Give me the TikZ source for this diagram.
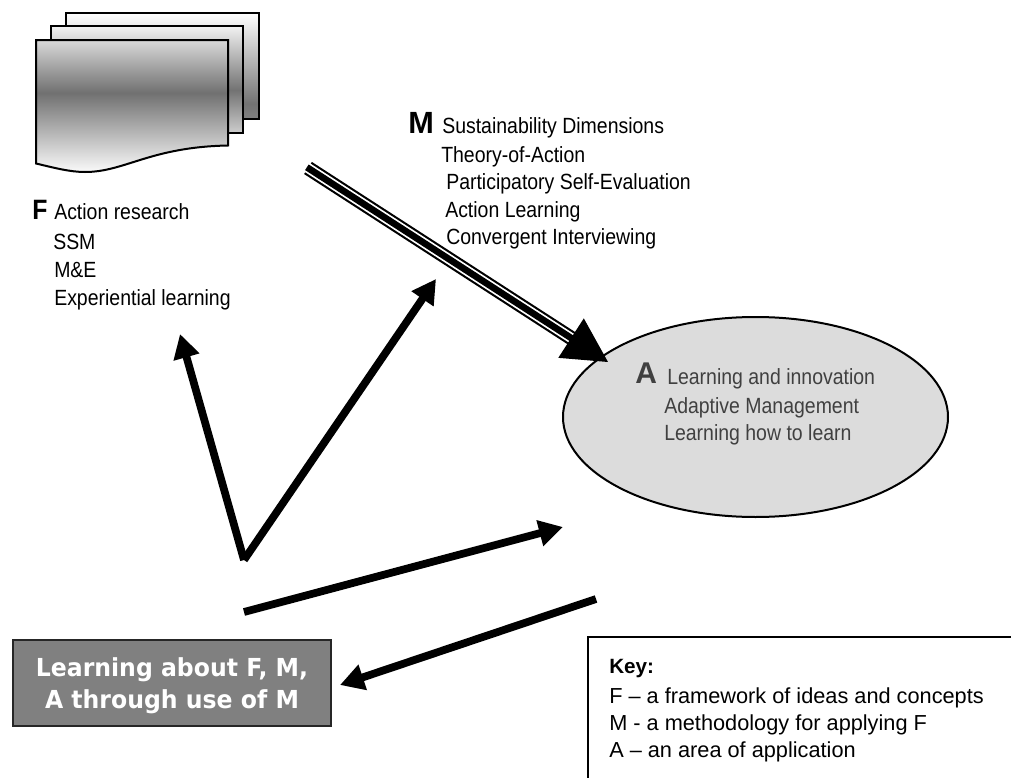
\documentclass[tikz,border=0pt]{standalone}
\usepackage{fontspec}
\setmainfont{Liberation Sans}
\newfontfamily\narrowfont[FakeStretch=0.885]{Liberation Sans}
\newfontfamily\boxfont[FakeStretch=0.95]{DejaVu Sans}
\usetikzlibrary{arrows.meta,shapes.geometric}
\pgfdeclareverticalshading{frontpage}{100bp}{rgb(0bp)=(.98,.98,.98);rgb(25bp)=(.98,.98,.98);rgb(55bp)=(.44,.44,.44);rgb(75bp)=(.85,.85,.85);rgb(100bp)=(.85,.85,.85)}
\pgfdeclareverticalshading{midpage}{100bp}{rgb(0bp)=(.8,.8,.8);rgb(25bp)=(.8,.8,.8);rgb(45bp)=(.45,.45,.45);rgb(75bp)=(.95,.95,.95);rgb(100bp)=(.95,.95,.95)}
\pgfdeclareverticalshading{backpage}{100bp}{rgb(0bp)=(.5,.5,.5);rgb(25bp)=(.5,.5,.5);rgb(32bp)=(.45,.45,.45);rgb(75bp)=(1,1,1);rgb(100bp)=(1,1,1)}
\definecolor{ellfill}{HTML}{DCDCDC}
\definecolor{elltext}{HTML}{404040}
\definecolor{boxfill}{HTML}{808080}
\tikzset{
  x=.75pt,y=-.75pt,
  page/.style={draw=black,line width=1.5pt,line join=miter,shade},
  txt/.style={anchor=base west,inner sep=0pt,font=\narrowfont\fontsize{16.5}{18}\selectfont},
  keytxt/.style={anchor=base west,inner sep=0pt,font=\fontsize{16.3}{18}\selectfont},
  big/.style={anchor=base west,inner sep=0pt,font=\fontsize{22.5}{24}\selectfont\bfseries},
  boxtxt/.style={anchor=base,inner sep=0pt,text=white,font=\boxfont\fontsize{18.6}{24}\selectfont\bfseries},
  heavy/.style={draw=black,line width=5.8pt,-{Triangle[length=18pt,width=19pt]}},
}
\begin{document}
\begin{tikzpicture}
\useasboundingbox (0,0) rectangle (1011,778);
% document stack
\path[page,shading=backpage] (66,13) -- (259,13) -- (259,118.5) -- (66,118.5) -- cycle;
\path[page,shading=midpage] (51,26) -- (243,26) -- (243,132.5) -- (51,132.5) -- cycle;
\path[page,shading=frontpage] (36,40) -- (228,40) -- (228,145.5) .. controls (150,147) and (125,172) .. (85,172) .. controls (70,172) and (55,168) .. (36,163.5) -- cycle;
% ellipse
\node[ellipse,draw=black,line width=1.5pt,fill=ellfill,minimum width=288.75pt,minimum height=150pt,inner sep=0pt] (ell) at (755.5,417) {};
% F text
\node[big,font=\narrowfont\fontsize{21}{24}\selectfont\bfseries] (fF) at (32,219) {F};
\node[txt] (f1) at (54,219) {Action research};
\node[txt] (f2) at (53,249) {SSM};
\node[txt] (f3) at (54,277) {M\&E};
\node[txt] (f4) at (54,305) {Experiential learning};
% M text
\node[big,font=\fontsize{23}{25}\selectfont\bfseries] (mM) at (408,133) {M};
\node[txt] (m1) at (442,133) {Sustainability Dimensions};
\node[txt] (m2) at (441,162) {Theory-of-Action};
\node[txt] (m3) at (446,189) {Participatory Self-Evaluation};
\node[txt] (m4) at (445,217) {Action Learning};
\node[txt] (m5) at (446,244) {Convergent Interviewing};
% A text
\node[big,text=elltext] (aA) at (635,383) {A};
\node[txt,text=elltext] (a1) at (667,384) {Learning and innovation};
\node[txt,text=elltext] (a2) at (664,413) {Adaptive Management};
\node[txt,text=elltext] (a3) at (664,440) {Learning how to learn};
% learning box
\node[draw=black!85,line width=1.5pt,fill=boxfill,minimum width=239pt,minimum height=64.5pt,inner sep=0pt] (lbox) at (172,682.5) {};
\node[boxtxt] (l1) at (172,676) {Learning about F, M,};
\node[boxtxt] (l2) at (172,708) {A through use of M};
% key
\coordinate (kb) at (588,778);
\coordinate (kc) at (588,637);
\coordinate (kr) at (1011,637);
\draw[black,line width=1.5pt] (kb) -- (kc) -- (kr);
\node[keytxt,font=\fontsize{15.5}{18}\selectfont\bfseries] (k0) at (609,673) {Key:};
\node[keytxt] (k1) at (609,703) {F – a framework of ideas and concepts};
\node[keytxt] (k2) at (609,730) {M - a methodology for applying F};
\node[keytxt] (k3) at (609,757) {A – an area of application};
% triple arrow
\coordinate (ta) at (308,168);
\coordinate (tb) at (575,340.5);
\coordinate (tt) at (608,362);
\draw[line width=10.8pt,black] (ta) -- (tb);
\draw[line width=7.6pt,white,shorten <=-1pt] (ta) -- (tb);
\draw[line width=5pt,black,shorten <=-1pt] (ta) -- (tb);
\draw[draw=black,line width=1pt,-{Triangle[length=33pt,width=35pt]}] ([shift={(-30,-19.4)}]tt) -- (tt);
% heavy arrows
\coordinate (v) at (244,560);
\coordinate (ft) at (180,334);
\coordinate (mt) at (436,279);
\coordinate (b1) at (244,612);
\coordinate (at) at (563,527);
\coordinate (b2) at (596,599);
\coordinate (lt) at (340,685);
\draw[heavy] (v) -- (ft);
\draw[heavy] (v) -- (mt);
\draw[heavy] (b1) -- (at);
\draw[heavy] (b2) -- (lt);
\end{tikzpicture}
\end{document}
